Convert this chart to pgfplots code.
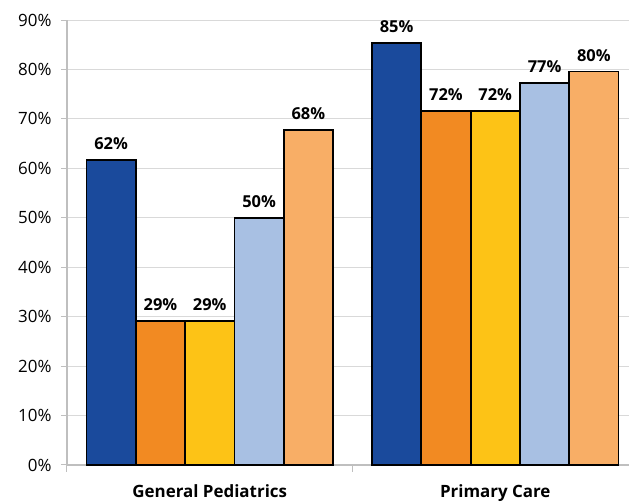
\documentclass[border=0pt]{standalone}
\usepackage{pgfplots}
\pgfplotsset{compat=1.18}
\usepackage{fontspec}
\setmainfont{Open Sans}
\definecolor{c1}{HTML}{1A4A9C}
\definecolor{c2}{HTML}{F28A22}
\definecolor{c3}{HTML}{FDC316}
\definecolor{c4}{HTML}{A8C0E3}
\definecolor{c5}{HTML}{F8AE66}
\definecolor{gridc}{HTML}{D9D9D9}
\definecolor{axc}{HTML}{BFBFBF}
\begin{document}
\begin{tikzpicture}
\begin{axis}[
  scale only axis, width=571bp, height=445bp,
  ymin=0, ymax=90, xmin=-0.5, xmax=1.5,
  ybar=0pt, bar width=49.3bp,
  ytick={0,10,...,90},
  yticklabel={\pgfmathprintnumber{\tick}\%},
  /pgf/number format/assume math mode=true,
  ymajorgrids, grid style={gridc, line width=1bp},
  axis x line*=bottom, axis y line*=left,
  axis line style={axc, line width=1.5bp, -},
  xtick={0,1}, xticklabels={General Pediatrics, Primary Care},
  major x tick style={draw=none},
  extra x ticks={-0.5,0.5,1.5}, extra x tick labels={},
  extra x tick style={grid=none, major tick length=7bp, tick align=outside, major x tick style={draw=axc, line width=1bp}},
  ytick style={draw=axc, line width=1bp},
  major tick length=6bp, tick align=outside,
  yticklabel style={font=\fontsize{17}{19}\selectfont, xshift=-6bp},
  xticklabel style={font=\bfseries\fontsize{17}{19}\selectfont, yshift=-10bp},
  every axis plot/.append style={draw=black, line width=1.8bp},
  nodes near coords={\pgfmathprintnumber[fixed,precision=0]{\pgfplotspointmeta}\%},
  every node near coord/.append style={font=\bfseries\fontsize{16.5}{19}\selectfont, black, yshift=6bp},
  clip=false,
]
\coordinate (o) at (rel axis cs:0,0);
\addplot[fill=c1] coordinates {(0,61.7) (1,85.4)};
\addplot[fill=c2] coordinates {(0,29.2) (1,71.6)};
\addplot[fill=c3] coordinates {(0,29.2) (1,71.6)};
\addplot[fill=c4] coordinates {(0,50.0) (1,77.3)};
\addplot[fill=c5] coordinates {(0,67.8) (1,79.6)};
\end{axis}
\pgfresetboundingbox
\path (o) ++(-67bp,-39bp) rectangle ++(629bp,504bp);
\end{tikzpicture}
\end{document}
